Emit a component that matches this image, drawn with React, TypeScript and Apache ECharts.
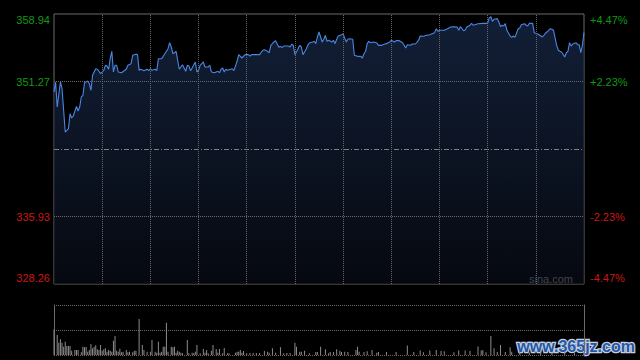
import React, { useEffect, useRef } from "react";
import * as echarts from "echarts";

const PREV_CLOSE = 343.6;
const priceTicks = [328.26, 335.93, 343.6, 351.27, 358.94];
const priceLabels = ["328.26", "335.93", "", "351.27", "358.94"];
const pctLabels = ["-4.47%", "-2.23%", "", "+2.23%", "+4.47%"];
const timeGridMinutes = [30, 60, 90, 120, 150, 180, 210, 240, 270, 300];
const volumeTicks = [0, 250, 500];

// [minute from open, price]
const pricePoints: [number, number][] = [
  [0, 350.08], [1, 351.21], [2, 348.37], [4, 351.21], [5, 350.45], [7, 345.53], [9, 345.91], [10, 347.61], [11, 347.12], [12, 347.35],
  [14, 348.45], [15, 347.92], [16, 348.37], [17, 349.51], [18, 349.7], [19, 351.13], [21, 351.33], [22, 351.02], [23, 350.27], [24, 351.97],
  [26, 352.72], [27, 352.66], [29, 352.16], [31, 352.54], [32, 353.11], [33, 353.03], [34, 352.66], [35, 353.86], [36, 354.7], [37, 352.35],
  [38, 353.11], [39, 353.11], [40, 352.35], [42, 352.27], [45, 352.66], [46, 353.11], [48, 353.29], [49, 354.25], [51, 354.36], [52, 354.32],
  [53, 352.54], [54, 352.66], [56, 352.5], [58, 352.66], [59, 352.5], [60, 352.72], [61, 352.54], [63, 352.66], [64, 352.5], [65, 353.86],
  [67, 353.86], [68, 354.13], [69, 354.43], [71, 355.0], [72, 355.68], [73, 355.19], [74, 354.43], [75, 354.54], [76, 354.7], [78, 352.66],
  [79, 352.92], [80, 353.18], [82, 352.43], [83, 353.11], [84, 353.03], [85, 352.5], [86, 352.8], [88, 353.49], [89, 352.35], [90, 352.54],
  [91, 353.11], [93, 353.49], [94, 352.92], [96, 352.92], [97, 353.11], [98, 352.35], [100, 352.27], [102, 352.43], [103, 352.27], [104, 352.66],
  [105, 352.8], [106, 352.35], [107, 352.66], [108, 352.54], [111, 352.72], [112, 352.5], [114, 353.57], [115, 354.32], [117, 353.94], [119, 354.32],
  [121, 354.32], [122, 354.17], [123, 354.32], [128, 354.32], [130, 354.82], [131, 354.88], [133, 354.7], [134, 354.54], [135, 355.38], [137, 355.76],
  [138, 355.91], [140, 355.16], [141, 355.27], [142, 355.11], [143, 355.3], [146, 355.3], [147, 355.19], [148, 355.5], [149, 355.38], [150, 354.32],
  [151, 354.62], [153, 355.38], [154, 355.19], [155, 354.32], [157, 354.93], [158, 355.38], [159, 355.64], [161, 355.76], [162, 355.84], [163, 355.57],
  [164, 356.33], [165, 356.89], [167, 355.76], [168, 356.07], [169, 356.52], [170, 355.84], [171, 355.95], [173, 355.76], [174, 355.95], [175, 355.57],
  [176, 356.07], [177, 356.44], [179, 356.59], [180, 356.67], [181, 356.21], [182, 355.76], [183, 356.07], [184, 356.13], [186, 356.07], [187, 354.25],
  [189, 354.13], [191, 354.13], [192, 353.94], [193, 354.43], [194, 354.7], [195, 355.57], [196, 355.84], [197, 355.68], [199, 355.76], [201, 355.64],
  [202, 355.38], [204, 355.38], [206, 355.53], [207, 355.57], [209, 355.76], [210, 355.95], [212, 355.76], [213, 355.91], [215, 355.91], [217, 355.68],
  [218, 355.38], [219, 355.08], [220, 355.45], [222, 355.38], [223, 355.53], [225, 355.53], [227, 355.95], [228, 356.44], [230, 356.41], [232, 356.52],
  [234, 356.59], [235, 356.67], [237, 356.82], [238, 357.27], [239, 356.97], [240, 357.09], [243, 357.09], [245, 357.27], [247, 357.46], [249, 357.5],
  [251, 357.46], [252, 357.09], [253, 357.5], [255, 357.04], [256, 357.12], [257, 357.46], [259, 357.66], [260, 357.88], [261, 357.66], [262, 357.72],
  [264, 357.84], [267, 357.88], [270, 357.88], [271, 358.49], [272, 358.63], [273, 358.11], [274, 358.34], [276, 358.41], [277, 358.03], [278, 357.5],
  [279, 357.66], [280, 357.58], [281, 357.84], [282, 357.09], [284, 356.44], [285, 356.29], [286, 356.44], [287, 356.29], [289, 357.27], [290, 357.35],
  [291, 357.72], [293, 357.84], [294, 357.66], [295, 357.58], [296, 357.88], [298, 357.88], [299, 356.82], [301, 356.7], [302, 356.59], [304, 356.33],
  [305, 356.52], [306, 356.75], [308, 357.09], [309, 357.27], [310, 357.2], [311, 357.09], [313, 355.38], [314, 354.82], [315, 354.7], [316, 354.62],
  [318, 354.05], [319, 354.54], [320, 354.7], [321, 355.68], [322, 355.3], [323, 355.53], [325, 355.68], [326, 355.45], [327, 355.45], [328, 354.54],
  [329, 355.38], [330, 356.82],
];

// [minute from open, volume]
const volumePoints: [number, number][] = [
  [0, 257], [2, 200], [3, 123], [4, 157], [5, 123], [6, 83], [7, 133], [8, 90], [9, 90], [10, 90], [11, 43], [13, 50], [14, 50], [15, 50],
  [17, 27], [18, 83], [19, 77], [20, 80], [21, 33], [22, 50], [23, 110], [24, 67], [25, 83], [26, 97], [27, 57], [28, 50], [29, 100], [30, 43],
  [31, 57], [32, 67], [33, 33], [34, 50], [35, 43], [36, 33], [37, 143], [38, 190], [39, 43], [40, 33], [41, 63], [42, 27], [43, 33], [45, 50],
  [46, 27], [47, 33], [49, 27], [50, 43], [51, 43], [53, 360], [55, 100], [56, 50], [58, 33], [60, 33], [61, 150], [63, 33], [64, 23], [65, 133],
  [66, 23], [67, 33], [68, 83], [69, 83], [70, 323], [71, 33], [73, 83], [74, 77], [75, 83], [76, 23], [77, 43], [78, 33], [79, 23], [80, 17],
  [83, 150], [84, 17], [86, 23], [87, 17], [88, 33], [89, 100], [91, 17], [93, 60], [94, 23], [95, 50], [96, 17], [98, 43], [99, 100], [101, 60],
  [102, 23], [103, 60], [105, 17], [106, 70], [108, 17], [109, 17], [113, 23], [114, 33], [115, 33], [116, 50], [117, 23], [118, 40], [120, 17],
  [122, 20], [124, 20], [126, 20], [128, 20], [131, 40], [133, 33], [134, 23], [136, 67], [138, 23], [141, 77], [143, 17], [145, 20], [147, 20],
  [150, 123], [151, 83], [153, 33], [154, 33], [156, 43], [159, 17], [163, 30], [164, 30], [166, 83], [169, 57], [171, 17], [172, 30], [174, 30],
  [176, 57], [178, 43], [179, 30], [181, 33], [183, 30], [188, 50], [189, 83], [190, 33], [193, 30], [195, 37], [198, 50], [201, 23], [202, 30],
  [207, 30], [213, 30], [220, 96], [224, 30], [228, 44], [230, 27], [234, 44], [238, 50], [241, 40], [243, 37], [249, 27], [252, 44], [256, 44],
  [259, 40], [264, 85], [266, 44], [267, 50], [269, 27], [272, 190], [274, 67], [276, 30], [278, 100], [281, 30], [284, 77], [285, 33], [290, 30],
  [296, 25], [303, 30], [310, 25], [318, 30], [324, 25], [330, 30],
];

const FONT = '"Liberation Sans", Arial, Helvetica, sans-serif';
const UP = "#119911";
const DOWN = "#cc1414";
const GRID_DOT = "#686868";
const BORDER = "#6a6a6a";

export default function App() {
  const ref = useRef<HTMLDivElement>(null);

  useEffect(() => {
    document.body.style.margin = "0";
    document.body.style.background = "#000";
    const chart = echarts.init(ref.current!, null, { renderer: "svg" });
    const step = priceTicks[1] - priceTicks[0];
    const tickIndex = (v: number) => Math.round((Number(v) - priceTicks[0]) / step);
    const makeFormatter = (arr: string[]) => (v: number) => {
      const i = tickIndex(v);
      const t = arr[i] ?? "";
      if (i === 0) return t + "\n ";
      if (i === arr.length - 1) return "\n" + t;
      return t;
    };
    const labelColor = (v: any) => (Number(v) >= PREV_CLOSE ? UP : DOWN);

    const dotted = { type: "dotted" as const, color: GRID_DOT, width: 1 };

    const option: any = {
      animation: false,
      backgroundColor: "#000",
      grid: [
        { left: 54, right: 56, top: 14, height: 270, show: true, borderColor: BORDER, borderWidth: 1, backgroundColor: "transparent" },
        { left: 54, right: 56, top: 305, height: 50, show: false },
      ],
      xAxis: [
        {
          type: "value", gridIndex: 0, min: 0, max: 330, interval: 30,
          axisLine: { show: false }, axisTick: { show: false }, axisLabel: { show: false }, splitLine: { show: false },
        },
        {
          type: "value", gridIndex: 1, min: 0, max: 330, interval: 30,
          axisLine: { show: false }, axisTick: { show: false }, axisLabel: { show: false }, splitLine: { show: false },
        },
      ],
      yAxis: [
        {
          type: "value", gridIndex: 0, position: "left", min: priceTicks[0], max: priceTicks[4], interval: step,
          axisLine: { show: false }, axisTick: { show: false }, splitLine: { show: false },
          axisLabel: {
            show: true, showMinLabel: true, showMaxLabel: true, margin: 4, fontSize: 11, lineHeight: 12, fontFamily: FONT,
            formatter: makeFormatter(priceLabels), color: labelColor,
          },
        },
        {
          type: "value", gridIndex: 0, position: "right", min: priceTicks[0], max: priceTicks[4], interval: step,
          axisLine: { show: false }, axisTick: { show: false }, splitLine: { show: false },
          axisLabel: {
            show: true, showMinLabel: true, showMaxLabel: true, margin: 6, fontSize: 11, lineHeight: 12, fontFamily: FONT,
            formatter: makeFormatter(pctLabels), color: labelColor,
          },
        },
        {
          type: "value", gridIndex: 1, position: "left", min: volumeTicks[0], max: volumeTicks[2], interval: volumeTicks[1],
          axisLine: { show: true, lineStyle: { color: BORDER, width: 1 } }, axisTick: { show: false }, axisLabel: { show: false },
          splitLine: { show: true, showMinLine: true, showMaxLine: true, lineStyle: dotted },
        },
        {
          type: "value", gridIndex: 1, position: "right", min: volumeTicks[0], max: volumeTicks[2], interval: volumeTicks[1],
          axisLine: { show: true, lineStyle: { color: BORDER, width: 1 } }, axisTick: { show: false }, axisLabel: { show: false },
          splitLine: { show: false },
        },
      ],
      series: [
        {
          type: "line", xAxisIndex: 0, yAxisIndex: 0, data: pricePoints, showSymbol: false, symbol: "none",
          lineStyle: { color: "#4a86e0", width: 1.1 },
          areaStyle: {
            origin: "start",
            color: new echarts.graphic.LinearGradient(0, 0, 0, 1, [
              { offset: 0, color: "#1a2c4e" },
              { offset: 1, color: "#080c16" },
            ]),
          },
          markLine: {
            silent: true, symbol: ["none", "none"], label: { show: false }, animation: false,
            emphasis: { disabled: true },
            data: [
              { yAxis: priceTicks[1], lineStyle: dotted },
              { yAxis: priceTicks[3], lineStyle: dotted },
              { yAxis: priceTicks[2], lineStyle: { type: [5, 2, 1, 2], color: "#808080", width: 1 } },
              ...timeGridMinutes.map((m) => ({ xAxis: m, lineStyle: dotted })),
            ],
          },
        },
        {
          type: "bar", xAxisIndex: 1, yAxisIndex: 2, data: volumePoints, barWidth: 1,
          itemStyle: { color: "#8c8c8c" },
        },
      ],
      graphic: [
        {
          type: "text", right: 67, top: 273,
          style: { text: "sina.com", font: `11px ${FONT}`, fill: "#bdbdbd" },
        },
        {
          type: "text", left: 516, top: 337,
          style: {
            text: "www.365jz.com", font: `bold 16px ${FONT}`, fill: "#2357a6",
            stroke: "#c4cfe2", lineWidth: 2.5,
          },
        },
      ],
    };
    chart.setOption(option);
    return () => chart.dispose();
  }, []);

  return <div ref={ref} style={{ width: 640, height: 360 }} />;
}
